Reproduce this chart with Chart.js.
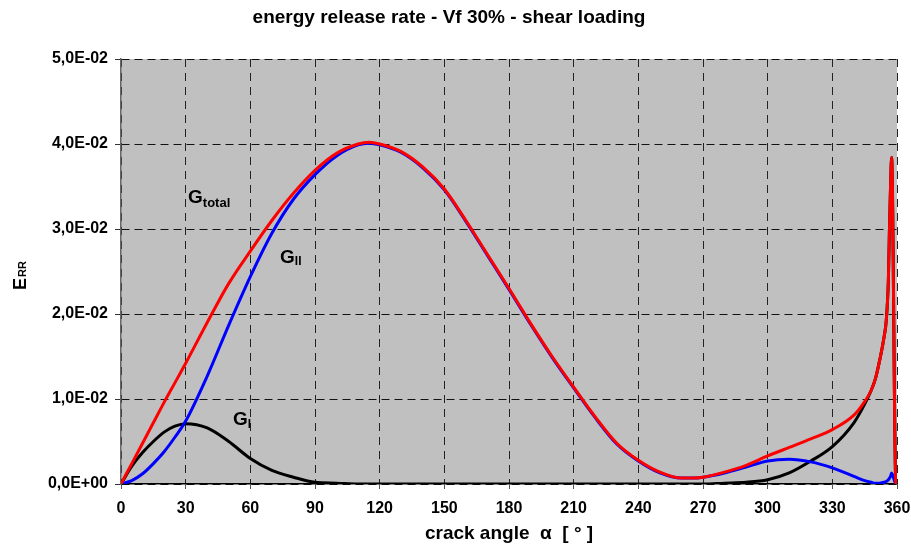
<!DOCTYPE html>
<html>
<head>
<meta charset="utf-8">
<script src="https://cdn.jsdelivr.net/npm/chart.js@4/dist/chart.umd.min.js"></script>
<style>
  html, body { margin: 0; padding: 0; background: #fff; }
  #errChart { display: block; }
</style>
</head>
<body>
<canvas id="errChart" width="911" height="544"></canvas>
<script>
// crack angle (deg)
const angles = [0, 5, 10, 15, 20, 25, 30, 40, 50, 60, 70, 80, 90, 100, 110, 115,
    120, 130, 140, 150, 160, 170, 180, 190, 200, 210, 220, 230, 240, 250, 260, 265,
    270, 280, 290, 300, 310, 320, 330, 340,
    345, 348, 350, 352, 354, 355, 356, 356.5, 357, 357.5, 359.5, 360];

// G total (red)
const gTotal = [0, 0.0024, 0.0048, 0.0072, 0.0096, 0.0119, 0.0142, 0.0190, 0.0236, 0.0274, 0.0310, 0.0342, 0.0369, 0.0389, 0.0400, 0.0402,
    0.0400, 0.0391, 0.0373, 0.0347, 0.0310, 0.0270, 0.0230, 0.0189, 0.0150, 0.0114, 0.0079, 0.0048, 0.0028, 0.0014, 0.0007, 0.0007,
    0.0008, 0.0014, 0.0022, 0.0033, 0.0043, 0.0053, 0.0064, 0.0081,
    0.0097, 0.0110, 0.0124, 0.0146, 0.0173, 0.0192, 0.0240, 0.0300, 0.0350, 0.0384, 0, 0];

// G II (blue)
const gII = [0, 0.0004, 0.0012, 0.0024, 0.0038, 0.0055, 0.0074, 0.0127, 0.0187, 0.0244, 0.0295, 0.0335, 0.0364, 0.0386, 0.0399, 0.0401,
    0.0399, 0.0390, 0.0372, 0.0346, 0.0309, 0.0269, 0.0229, 0.0188, 0.0149, 0.0113, 0.0078, 0.0047, 0.0027, 0.0013, 0.0007, 0.0007,
    0.0008, 0.0013, 0.0020, 0.0027, 0.0029, 0.0026, 0.0019, 0.0009,
    0.0004, 0.0002, 0.0001, 0.0001, 0.0002, 0.0003, 0.0005, 0.0007, 0.0009, 0.0013, 0, 0];

// G I (black)
const gI = [0, 0.0021, 0.0037, 0.0050, 0.0061, 0.0068, 0.0071, 0.0066, 0.0050, 0.0030, 0.0016, 0.0008, 0.0002, 0.0001, 0, 0,
    0, 0, 0, 0, 0, 0, 0, 0, 0, 0, 0, 0, 0, 0, 0, 0,
    0, 0.0001, 0.0002, 0.0005, 0.0013, 0.0027, 0.0044, 0.0072,
    0.0094, 0.0110, 0.0124, 0.0146, 0.0173, 0.0192, 0.0240, 0.0300, 0.0350, 0.0384, 0, 0];

const FONT = "'Liberation Sans', Arial, sans-serif";

function toPoints(vals) {
    return angles.map((a, i) => ({ x: a, y: vals[i] }));
}

// 0.03 -> "3,0E-02"
function fmtE(v) {
    const parts = v.toExponential(1).split('e');
    const sign = parts[1][0] === '-' ? '-' : '+';
    const exp = parts[1].replace(/[+-]/, '').padStart(2, '0');
    return parts[0].replace('.', ',') + 'E' + sign + exp;
}

// gray plot background
const plotBackground = {
    id: 'plotBackground',
    beforeDraw(chart) {
        const { ctx, chartArea: a } = chart;
        ctx.save();
        ctx.fillStyle = '#c0c0c0';
        ctx.fillRect(a.left, a.top, a.right - a.left, a.bottom - a.top);
        ctx.restore();
    }
};

// text with subscript
function drawSub(ctx, main, sub, x, y, size, subSize, drop) {
    ctx.font = 'bold ' + size + 'px ' + FONT;
    ctx.fillText(main, x, y);
    const w = ctx.measureText(main).width;
    ctx.font = 'bold ' + subSize + 'px ' + FONT;
    ctx.fillText(sub, x + w, y + drop);
}

const labels = {
    id: 'labels',
    afterDraw(chart) {
        const { ctx, chartArea: a } = chart;
        const xs = chart.scales.x, ys = chart.scales.y;
        ctx.save();
        ctx.fillStyle = '#000';
        ctx.textBaseline = 'alphabetic';

        // title
        ctx.textAlign = 'center';
        ctx.font = 'bold 19px ' + FONT;
        ctx.fillText('energy release rate - Vf 30% - shear loading', 449, 23);

        // x axis title
        ctx.font = 'bold 19px ' + FONT;
        ctx.fillText('crack angle  α  [ ° ]', (a.left + a.right) / 2, 539);

        // curve labels
        ctx.textAlign = 'left';
        drawSub(ctx, 'G', 'total', xs.getPixelForValue(31.1), ys.getPixelForValue(0.0331), 19, 13, 4);
        drawSub(ctx, 'G', 'II', xs.getPixelForValue(73.8), ys.getPixelForValue(0.0260), 19, 12, 2);
        drawSub(ctx, 'G', 'I', xs.getPixelForValue(52.0), ys.getPixelForValue(0.0069), 19, 12, 3);

        // y axis title E_RR
        ctx.translate(26, 290);
        ctx.rotate(-Math.PI / 2);
        ctx.font = 'bold 18px ' + FONT;
        ctx.fillText('E', 0, 0);
        const w = ctx.measureText('E').width;
        ctx.font = 'bold 11px ' + FONT;
        ctx.fillText('RR', w + 1, 0);
        ctx.restore();
    }
};

function makeSet(label, vals, color) {
    return {
        label: label,
        data: toPoints(vals),
        borderColor: color,
        borderWidth: 3,
        pointRadius: 0,
        fill: false,
        cubicInterpolationMode: 'monotone'
    };
}

const ctx = document.getElementById('errChart').getContext('2d');
const errChart = new Chart(ctx, {
    type: 'line',
    data: {
        datasets: [
            makeSet('G total', gTotal, '#ff0000'),
            makeSet('G II', gII, '#0000ff'),
            makeSet('G I', gI, '#000000')
        ]
    },
    options: {
        responsive: false,
        animation: false,
        devicePixelRatio: 1,
        layout: { padding: { top: 59, right: 14, left: 0, bottom: 0 } },
        plugins: {
            legend: { display: false },
            tooltip: { enabled: false },
            title: { display: false }
        },
        scales: {
            x: {
                type: 'linear',
                min: 0,
                max: 360,
                afterFit: s => {
                    s.height = 60;
                    s.paddingLeft = 0;
                    s.paddingRight = 0;
                },
                ticks: {
                    stepSize: 30,
                    padding: 10,
                    color: '#000',
                    font: { family: FONT, size: 16, weight: 'bold' }
                },
                grid: {
                    color: '#222',
                    lineWidth: 1,
                    tickLength: 5,
                    tickColor: '#555',
                    tickBorderDash: []
                },
                border: { display: true, color: '#000', width: 1.5, dash: [8, 6] }
            },
            y: {
                min: 0,
                max: 0.05,
                afterFit: s => {
                    s.width = 121;
                    s.paddingTop = 0;
                    s.paddingBottom = 0;
                },
                ticks: {
                    stepSize: 0.01,
                    padding: 7,
                    color: '#000',
                    font: { family: FONT, size: 16, weight: 'bold' },
                    callback: v => fmtE(v)
                },
                grid: {
                    color: '#111',
                    lineWidth: 1,
                    tickLength: 6,
                    tickColor: '#333'
                },
                border: { display: true, color: '#666', width: 1.5, dash: [8, 5] }
            }
        }
    },
    plugins: [plotBackground, labels]
});
</script>
</body>
</html>
